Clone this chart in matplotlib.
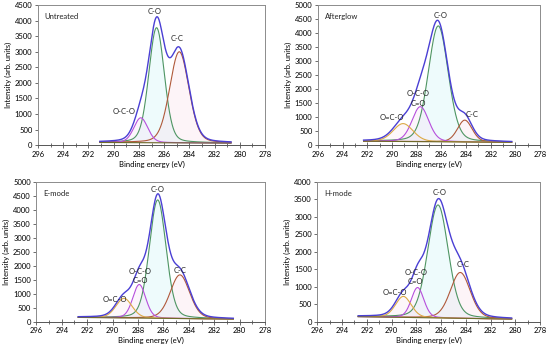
import numpy as np
import matplotlib.pyplot as plt

plt.rcParams['font.family'] = ['Lato', 'DejaVu Sans']

# Peak fit parameters
# each peak: label, centre (eV), height above background, FWHM (eV)
untreated_peaks = ['C-O', 'C-C', 'O-C-O']
untreated_centre = [286.6, 284.8, 287.85]
untreated_height = [3700, 2930, 800]
untreated_fwhm = [1.45, 1.8, 1.3]
untreated_bg = [85, 65]            # background at high / low energy end
untreated_span = [291.1, 280.7]    # energy range of the fit
untreated_ymax = 4500

afterglow_peaks = ['C-O', 'C-C', 'C=O', 'O=C-O']
afterglow_centre = [286.25, 284.1, 287.7, 289.1]
afterglow_height = [4140, 780, 1250, 640]
afterglow_fwhm = [1.9, 1.4, 1.6, 1.9]
afterglow_bg = [140, 100]
afterglow_span = [292.3, 280.3]
afterglow_ymax = 5000

emode_peaks = ['C-O', 'C-C', 'C=O', 'O=C-O']
emode_centre = [286.45, 284.7, 287.9, 289.1]
emode_height = [4230, 1560, 1200, 700]
emode_fwhm = [1.55, 1.8, 1.2, 1.5]
emode_bg = [160, 100]
emode_span = [292.7, 280.5]
emode_ymax = 5000

hmode_peaks = ['C-O', 'C-C', 'C=O', 'O=C-O']
hmode_centre = [286.25, 284.45, 287.9, 289.05]
hmode_height = [3230, 1310, 860, 600]
hmode_fwhm = [1.95, 1.9, 1.2, 1.5]
hmode_bg = [150, 80]
hmode_span = [292.7, 280.3]
hmode_ymax = 4000

titles = ['Untreated', 'Afterglow', 'E-mode', 'H-mode']

# text labels above the peaks (x in eV, y in counts)
label_text = [
    ['C-O', 'C-C', 'O-C-O'],
    ['C-O', 'O-C-O', 'C=O', 'O=C-O', 'C-C'],
    ['C-O', 'O-C-O', 'C=O', 'O=C-O', 'C-C'],
    ['C-O', 'O-C-O', 'C=O', 'O=C-O', 'C-C'],
]
label_xy = [
    [(286.75, 4310), (284.95, 3430), (289.2, 1080)],
    [(286.05, 4620), (287.9, 1830), (287.9, 1480), (290.0, 970), (283.5, 1090)],
    [(286.45, 4720), (287.85, 1800), (287.85, 1470), (289.8, 790), (284.7, 1850)],
    [(286.15, 3690), (288.05, 1400), (288.05, 1160), (289.75, 830), (284.25, 1630)],
]

colors = {'C-O': '#4e9563', 'C-C': '#b0583a', 'O-C-O': '#b64fdc',
          'C=O': '#b64fdc', 'O=C-O': '#dcaa45'}
fills = {'C-O': '#bff0f4', 'C-C': '#fbd6e6', 'O-C-O': '#f7d8f7',
         'C=O': '#f7d8f7', 'O=C-O': '#fbe0ec'}
env_color = '#4a3fd4'
bg_color = '#6f6a2a'

panels = [
    (untreated_peaks, untreated_centre, untreated_height, untreated_fwhm,
     untreated_bg, untreated_span, untreated_ymax),
    (afterglow_peaks, afterglow_centre, afterglow_height, afterglow_fwhm,
     afterglow_bg, afterglow_span, afterglow_ymax),
    (emode_peaks, emode_centre, emode_height, emode_fwhm,
     emode_bg, emode_span, emode_ymax),
    (hmode_peaks, hmode_centre, hmode_height, hmode_fwhm,
     hmode_bg, hmode_span, hmode_ymax),
]


def pseudo_voigt(x, c, h, w, mix=0.2):
    """Gaussian-Lorentzian line shape used by the fitting software."""
    u = 2 * (x - c) / w
    return h * ((1 - mix) * np.exp(-np.log(2) * u ** 2) + mix / (1 + u ** 2))


fig = plt.figure(figsize=(5.5, 3.48), dpi=100)
boxes = [[0.069, 0.583, 0.413, 0.402], [0.578, 0.583, 0.404, 0.402],
         [0.066, 0.075, 0.416, 0.402], [0.577, 0.075, 0.405, 0.402]]

for i, (names, cen, hgt, fw, bg, span, ymax) in enumerate(panels):
    ax = fig.add_axes(boxes[i])
    x = np.linspace(span[0], span[1], 400)
    base = np.interp(x, [span[1], span[0]], [bg[1], bg[0]])

    total = base.copy()
    for n, c, h, w in zip(names, cen, hgt, fw):
        comp = pseudo_voigt(x, c, h, w)
        total += comp
        ax.fill_between(x, base, base + comp, color=fills[n], alpha=0.25, lw=0)
        ax.plot(x, base + comp, color=colors[n], lw=0.8)
    ax.plot(x, base, color=bg_color, lw=0.8)
    ax.plot(x, total, color=env_color, lw=1.0)

    for t, (lx, ly) in zip(label_text[i], label_xy[i]):
        ax.text(lx, ly, t, fontsize=5.5, ha='center', va='center', color='#222222')
    ax.text(0.03, 0.92, titles[i], transform=ax.transAxes, fontsize=5.5,
            va='center', color='#222222')

    ax.set_xlim(296, 278)
    ax.set_ylim(0, ymax)
    ax.set_xticks(np.arange(296, 277, -2))
    ax.set_xticks(np.arange(295, 278, -2), minor=True)
    ax.set_yticks(np.arange(0, ymax + 1, 500))
    ax.tick_params(axis='x', which='major', direction='inout', length=4,
                   width=0.6, color='#555555', labelsize=5.5, pad=2)
    ax.tick_params(axis='x', which='minor', direction='inout', length=3,
                   width=0.6, color='#555555')
    ax.tick_params(axis='y', direction='out', length=2.5, width=0.6,
                   color='#555555', labelsize=5.5, pad=1.5)
    for s in ax.spines.values():
        s.set_color('#8c8c8c')
        s.set_linewidth(0.7)
    ax.spines['bottom'].set_color('#555555')
    ax.set_xlabel('Binding energy (eV)', fontsize=5.5, labelpad=2)
    ax.set_ylabel('Intensity (arb. units)', fontsize=5.5, labelpad=2)

fig.savefig('out.png', dpi=100)
